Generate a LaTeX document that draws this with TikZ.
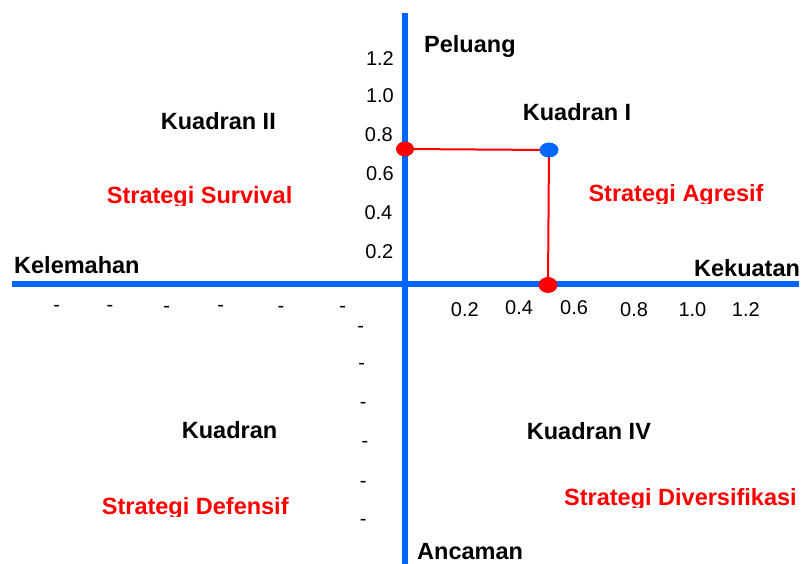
\documentclass[tikz,border=0pt]{standalone}
\usepackage{fontspec}
\setmainfont{Liberation Sans}
\usetikzlibrary{shapes.geometric}
\definecolor{axisblue}{RGB}{0,102,255}
\definecolor{ptred}{RGB}{255,0,0}
\newcommand{\redlabel}[4]{%
  \begin{scope}
    \clip (#2-3,#3-30) rectangle (#2+300,#3+2);
    \node[redtxt] (#1) at (#2,#3) {#4};
  \end{scope}}
\begin{document}
\begin{tikzpicture}[x=1pt,y=-1pt,
  axis/.style={draw=axisblue,line width=5.5pt},
  guide/.style={draw=ptred,line width=2pt},
  bigtxt/.style={anchor=base west,inner sep=0pt,font=\fontsize{23.5}{28}\selectfont\bfseries},
  redtxt/.style={bigtxt,text=ptred},
  numtxt/.style={anchor=base east,inner sep=0pt,font=\fontsize{20}{24}\selectfont},
  xnum/.style={anchor=base west,inner sep=0pt,font=\fontsize{20}{24}\selectfont},
  dashtxt/.style={anchor=center,inner sep=0pt,font=\fontsize{20}{24}\selectfont},
  dot/.style={shape=ellipse,inner sep=0pt,minimum width=18pt,minimum height=15pt}]
\useasboundingbox (0,0) rectangle (804,563);
% axes
\coordinate (vtop) at (405,13);
\coordinate (vbot) at (405,570);
\coordinate (hleft) at (12,284);
\coordinate (hright) at (799,284);
\draw[axis] (vtop) -- (vbot);
\draw[axis] (hleft) -- (hright);
% point construction
\coordinate (cL) at (405,149);
\coordinate (cB) at (549,150);
\coordinate (cD) at (548,285);
\draw[guide] (cL) -- (cB) -- (cD);
\node[dot,fill=ptred] (dL) at (cL) {};
\node[dot,fill=axisblue,minimum width=19pt] (dB) at (cB) {};
\node[dot,fill=ptred,minimum width=19pt,minimum height=16pt] (dD) at (cD) {};
% axis titles
\node[bigtxt] (peluang) at (424,52) {Peluang};
\node[bigtxt] (kelemahan) at (14,273.3) {Kelemahan};
\node[bigtxt] (kekuatan) at (694,276.7) {Kekuatan};
\node[bigtxt] (ancaman) at (417,559) {Ancaman};
% quadrants
\node[bigtxt] (q1) at (522.7,120.7) {Kuadran I};
\node[bigtxt] (q2) at (160.7,129) {Kuadran II};
\node[bigtxt] (q3) at (181.7,438.3) {Kuadran};
\node[bigtxt] (q4) at (526.7,439) {Kuadran IV};
\redlabel{s1}{588.3}{201.7}{Strategi Agresif}
\redlabel{s2}{106.7}{203.3}{Strategi Survival}
\redlabel{s3}{101.7}{514}{Strategi Defensif}
\redlabel{s4}{564}{505}{Strategi Diversifikasi}
% y numbers
\node[numtxt] (y12) at (394,65) {1.2};
\node[numtxt] (y10) at (394,102) {1.0};
\node[numtxt] (y08) at (393,141) {0.8};
\node[numtxt] (y06) at (394,180) {0.6};
\node[numtxt] (y04) at (392.5,219.3) {0.4};
\node[numtxt] (y02) at (393.5,258.3) {0.2};
% x numbers
\node[xnum] (x02) at (450.7,316) {0.2};
\node[xnum] (x04) at (505,314) {0.4};
\node[xnum] (x06) at (560,314) {0.6};
\node[xnum] (x08) at (620,316.7) {0.8};
\node[xnum] (x10) at (678.3,316) {1.0};
\node[xnum] (x12) at (731.7,316) {1.2};
% negative side dashes
\node[dashtxt] (hd1) at (56.7,308) {-};
\node[dashtxt] (hd2) at (110,308) {-};
\node[dashtxt] (hd3) at (166.7,309) {-};
\node[dashtxt] (hd4) at (220.7,308) {-};
\node[dashtxt] (hd5) at (281,309) {-};
\node[dashtxt] (hd6) at (342.7,309) {-};
\node[dashtxt] (vd1) at (360.7,329.3) {-};
\node[dashtxt] (vd2) at (361.7,366) {-};
\node[dashtxt] (vd3) at (363.3,405.7) {-};
\node[dashtxt] (vd4) at (365,444.3) {-};
\node[dashtxt] (vd5) at (363.3,484) {-};
\node[dashtxt] (vd6) at (363.3,522.3) {-};
\end{tikzpicture}
\end{document}
